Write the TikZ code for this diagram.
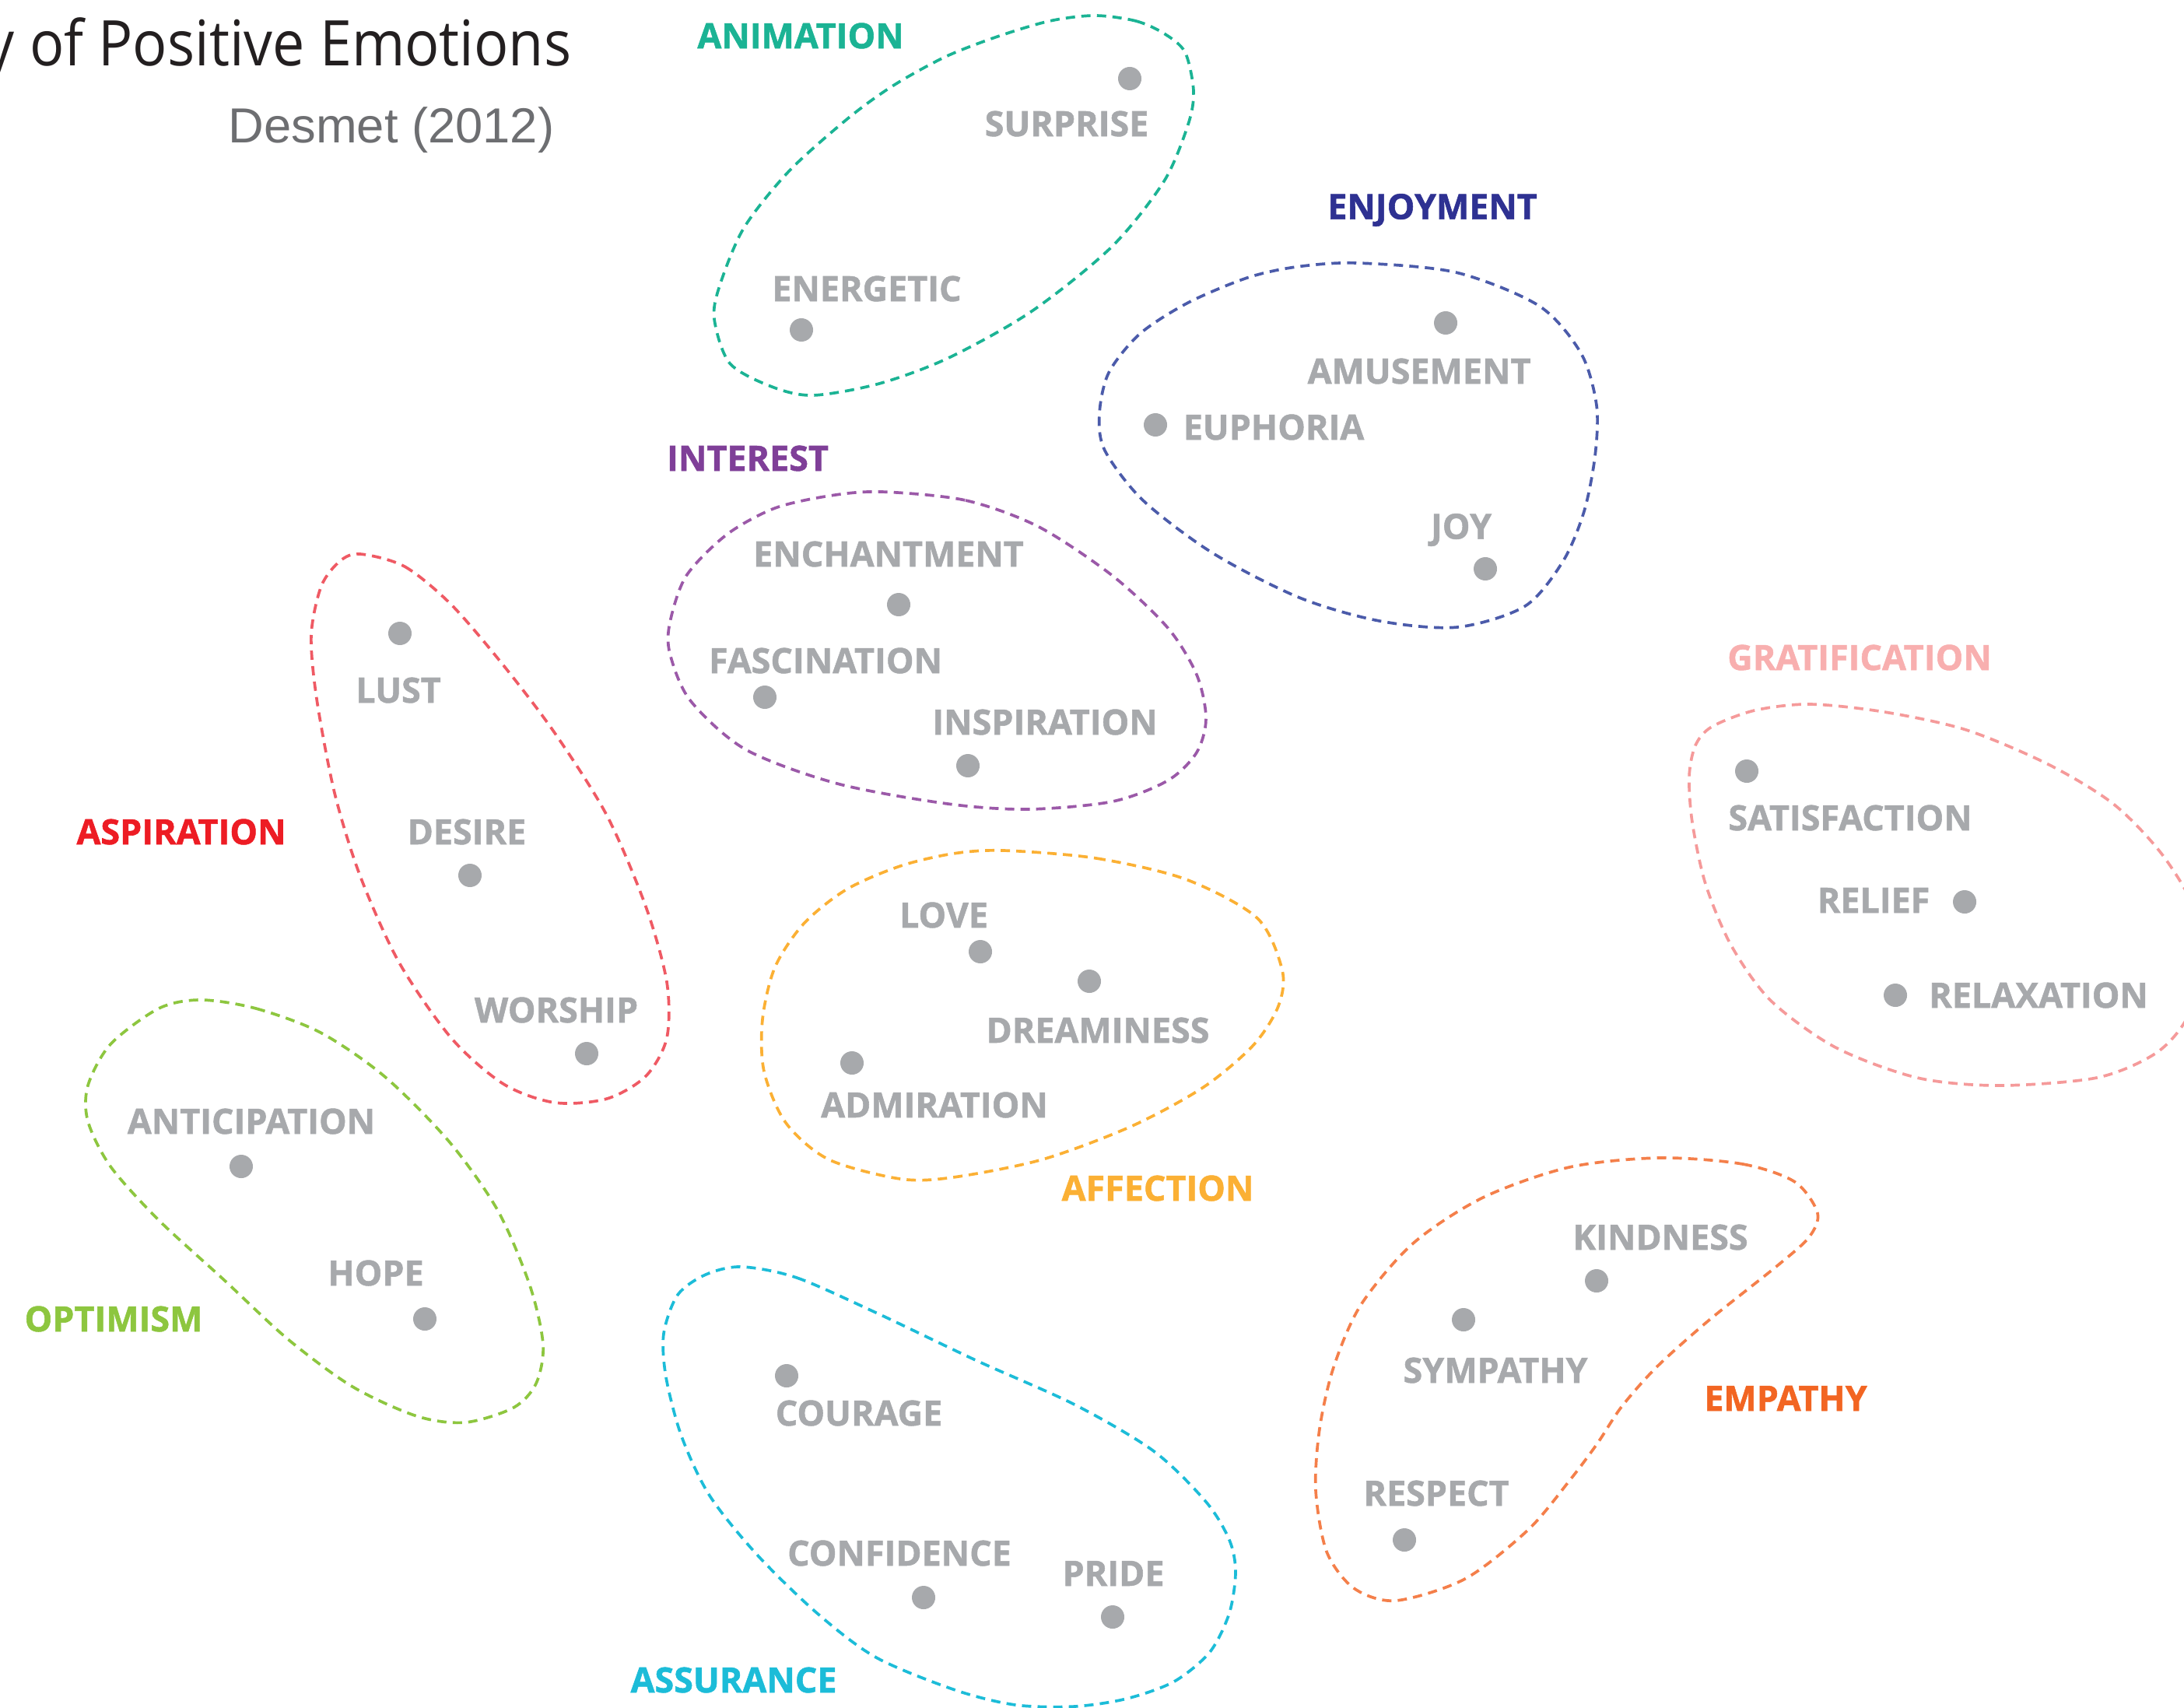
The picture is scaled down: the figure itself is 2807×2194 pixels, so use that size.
\documentclass[tikz,border=0pt]{standalone}
\usepackage{fontspec}
\setmainfont{Open Sans}
\newfontfamily\negra{Open Sans}[BoldFeatures={FakeBold=1.2}]
\newfontfamily\arialfont{Liberation Sans}
\definecolor{gris}{HTML}{A7A9AC}
\definecolor{tinta}{HTML}{231F20}
\definecolor{grisautor}{HTML}{6D6E71}
\definecolor{animacion}{HTML}{1BB394}
\definecolor{disfrute}{HTML}{2E3192}
\definecolor{disfruteb}{HTML}{4B5BAA}
\definecolor{interes}{HTML}{7F3F98}
\definecolor{interesb}{HTML}{9B59A8}
\definecolor{aspiracion}{HTML}{ED1C24}
\definecolor{aspiracionb}{HTML}{EF5A64}
\definecolor{afecto}{HTML}{FBB034}
\definecolor{gratificacion}{HTML}{F8AFAF}
\definecolor{gratificacionb}{HTML}{F59A9A}
\definecolor{optimismo}{HTML}{8DC63F}
\definecolor{seguridad}{HTML}{1CBCD8}
\definecolor{empatia}{HTML}{F26522}
\definecolor{empatiab}{HTML}{F47F4A}
\begin{document}
\begin{tikzpicture}[x=0.01cm, y=-0.01cm,
    punto/.style={circle, fill=gris, inner sep=0pt, minimum size=0.3cm},
    emocion/.style={text=gris, font=\negra\fontsize{12.75}{14}\selectfont\bfseries, inner sep=0pt},
    grupo/.style={font=\negra\fontsize{12.75}{14}\selectfont\bfseries, inner sep=0pt},
    borde/.style={line width=1.05pt, dash pattern=on 3.4pt off 2.3pt}
]
\useasboundingbox (0,0) rectangle (2807,2194);
\clip (0,0) rectangle (2807,2194);

\node[anchor=base east, inner sep=0pt, text=tinta, font=\fontsize{23}{26}\selectfont] (titulo) at (735,85) {\scalebox{0.91}[1]{y of Positive Emotions}};
\node[anchor=base east, inner sep=0pt, text=grisautor, font=\arialfont\fontsize{18}{20}\selectfont] (autor) at (713,183) {Desmet (2012)};

\draw[borde, animacion] plot[smooth cycle] coordinates {(1407,20) (1460,27) (1496,43) (1523,67) (1534,117) (1527,160) (1496,233) (1429,317) (1326,400) (1219,460) (1130,493) (1045,508) (992,497) (938,467) (918,410) (925,367) (956,293) (1014,220) (1090,152) (1148,110) (1215,73) (1282,47) (1349,27)};
\node[grupo, text=animacion] (animation) at (1029,46) {ANIMATION};
\node[punto] (p-surprise) at (1452,101) {};
\node[emocion] (surprise) at (1371,159) {SURPRISE};
\node[punto] (p-energetic) at (1030,424) {};
\node[emocion] (energetic) at (1114,371) {ENERGETIC};

\draw[borde, disfruteb] plot[smooth cycle] coordinates {(1744,338) (1871,350) (1978,393) (2032,454) (2052,521) (2050,586) (2036,657) (2009,721) (1960,779) (1873,806) (1773,798) (1670,768) (1559,711) (1469,643) (1420,579) (1413,532) (1425,479) (1465,429) (1527,389) (1603,357) (1666,343)};
\node[grupo, text=disfrute] (enjoyment) at (1841,270) {ENJOYMENT};
\node[punto] (p-amusement) at (1858,415) {};
\node[emocion] (amusement) at (1824,477) {AMUSEMENT};
\node[punto] (p-euphoria) at (1485,546) {};
\node[emocion] (euphoria) at (1637,549) {EUPHORIA};
\node[punto] (p-joy) at (1909,731) {};
\node[emocion] (joy) at (1878,681) {JOY};

\draw[borde, interesb] plot[smooth cycle] coordinates {(1133,632) (1241,643) (1335,677) (1430,740) (1501,807) (1538,867) (1550,923) (1538,967) (1501,1003) (1430,1030) (1321,1040) (1218,1033) (1076,1007) (958,963) (887,900) (861,840) (861,800) (882,740) (934,687) (996,653) (1067,637)};
\node[grupo, text=interes] (interest) at (961,589) {INTEREST};
\node[punto] (p-enchantment) at (1155,777) {};
\node[emocion] (enchantment) at (1142,712) {ENCHANTMENT};
\node[punto] (p-fascination) at (983,896) {};
\node[emocion] (fascination) at (1061,849) {FASCINATION};
\node[punto] (p-inspiration) at (1244,984) {};
\node[emocion] (inspiration) at (1343,928) {INSPIRATION};

\draw[borde, aspiracionb] plot[smooth cycle] coordinates {(463,712) (520,728) (580,777) (647,855) (713,942) (780,1048) (830,1165) (857,1262) (857,1334) (830,1383) (780,1412) (713,1417) (647,1393) (580,1334) (513,1237) (463,1126) (430,1019) (407,898) (400,816) (413,753) (437,721)};
\node[grupo, text=aspiracion] (aspiration) at (233,1069) {ASPIRATION};
\node[punto] (p-lust) at (514,814) {};
\node[emocion] (lust) at (512,887) {LUST};
\node[punto] (p-desire) at (604,1125) {};
\node[emocion] (desire) at (600,1069) {DESIRE};
\node[punto] (p-worship) at (754,1354) {};
\node[emocion] (worship) at (715,1298) {WORSHIP};

\draw[borde, afecto] plot[smooth cycle] coordinates {(1290,1093) (1409,1103) (1524,1130) (1616,1180) (1648,1247) (1643,1293) (1611,1343) (1547,1397) (1455,1447) (1340,1490) (1225,1513) (1157,1515) (1065,1490) (1010,1443) (982,1377) (980,1310) (996,1243) (1033,1187) (1088,1143) (1157,1113) (1225,1097)};
\node[grupo, text=afecto] (affection) at (1488,1527) {AFFECTION};
\node[punto] (p-love) at (1260,1223) {};
\node[emocion] (love) at (1213,1176) {LOVE};
\node[punto] (p-dreaminess) at (1400,1261) {};
\node[emocion] (dreaminess) at (1411,1324) {DREAMINESS};
\node[punto] (p-admiration) at (1095,1366) {};
\node[emocion] (admiration) at (1201,1420) {ADMIRATION};

\draw[borde, gratificacionb] plot[smooth cycle] coordinates {(2326,905) (2422,915) (2527,938) (2632,982) (2716,1033) (2778,1097) (2822,1170) (2835,1240) (2810,1310) (2770,1354) (2695,1385) (2569,1395) (2464,1385) (2359,1346) (2276,1286) (2225,1215) (2192,1136) (2175,1057) (2171,998) (2179,958) (2200,934) (2255,913)};
\node[grupo, text=gratificacion] (gratification) at (2390,845) {GRATIFICATION};
\node[punto] (p-satisfaction) at (2245,991) {};
\node[emocion] (satisfaction) at (2378,1051) {SATISFACTION};
\node[punto] (p-relief) at (2525,1159) {};
\node[emocion] (relief) at (2408,1157) {RELIEF};
\node[punto] (p-relaxation) at (2436,1279) {};
\node[emocion] (relaxation) at (2620,1279) {RELAXATION};

\draw[borde, optimismo] plot[smooth cycle] coordinates {(258,1285) (329,1296) (412,1327) (495,1384) (578,1468) (640,1556) (681,1652) (698,1728) (689,1778) (660,1809) (598,1828) (536,1820) (453,1782) (370,1721) (287,1644) (204,1568) (142,1499) (113,1441) (113,1395) (142,1342) (204,1296)};
\node[grupo, text=optimismo] (optimism) at (146,1695) {OPTIMISM};
\node[punto] (p-anticipation) at (310,1499) {};
\node[emocion] (anticipation) at (323,1441) {ANTICIPATION};
\node[punto] (p-hope) at (546,1695) {};
\node[emocion] (hope) at (483,1636) {HOPE};

\draw[borde, seguridad] plot[smooth cycle] coordinates {(953,1628) (1024,1642) (1126,1687) (1254,1748) (1381,1805) (1483,1865) (1550,1930) (1580,1979) (1588,2020) (1580,2073) (1555,2123) (1509,2161) (1448,2183) (1381,2193) (1305,2191) (1228,2172) (1126,2130) (1050,2073) (973,1998) (912,1922) (876,1846) (856,1770) (853,1714) (871,1664) (907,1638)};
\node[grupo, text=seguridad] (assurance) at (943,2159) {ASSURANCE};
\node[punto] (p-courage) at (1011,1768) {};
\node[emocion] (courage) at (1104,1816) {COURAGE};
\node[punto] (p-confidence) at (1187,2053) {};
\node[emocion] (confidence) at (1156,1996) {CONFIDENCE};
\node[punto] (p-pride) at (1430,2078) {};
\node[emocion] (pride) at (1431,2022) {PRIDE};

\draw[borde, empatiab] plot[smooth cycle] coordinates {(2133,1488) (2240,1496) (2307,1519) (2336,1559) (2325,1590) (2285,1626) (2196,1697) (2129,1757) (2084,1808) (2053,1855) (2017,1903) (1964,1966) (1883,2029) (1794,2057) (1740,2041) (1705,1994) (1691,1915) (1696,1836) (1714,1757) (1749,1677) (1816,1598) (1906,1539) (2017,1500)};
\node[grupo, text=empatia] (empathy) at (2295,1797) {EMPATHY};
\node[punto] (p-kindness) at (2052,1646) {};
\node[emocion] (kindness) at (2134,1590) {KINDNESS};
\node[punto] (p-sympathy) at (1881,1696) {};
\node[emocion] (sympathy) at (1922,1761) {SYMPATHY};
\node[punto] (p-respect) at (1805,1979) {};
\node[emocion] (respect) at (1846,1919) {RESPECT};
\end{tikzpicture}
\end{document}
